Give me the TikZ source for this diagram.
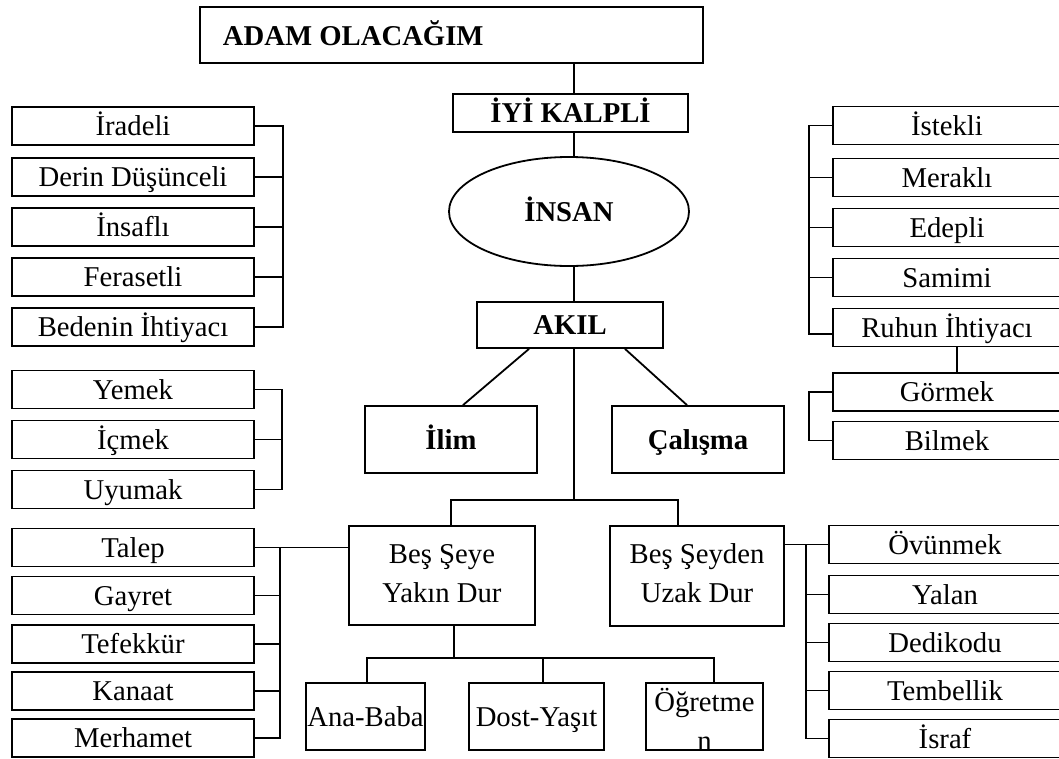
\documentclass[tikz,border=0pt]{standalone}
\usepackage{fontspec}
\setmainfont{Liberation Serif}
\usetikzlibrary{shapes.geometric}
\begin{document}
\begin{tikzpicture}[x=1pt,y=-1pt,line width=1.8pt,
  rmtext/.style={font=\fontsize{28.7pt}{38pt}\selectfont},
  bftext/.style={font=\fontsize{28.7pt}{38pt}\selectfont\bfseries},
  bx/.style={draw, rectangle, inner sep=0pt, text height=25pt, text depth=6pt, rmtext},
  lbox/.style={bx, minimum width=242pt, minimum height=38pt},
  rbox/.style={bx, minimum width=228pt, minimum height=38pt},
  sbox/.style={bx, minimum width=232pt, minimum height=38pt},
  txt/.style={inner sep=0pt, rmtext, anchor=base},
]
\useasboundingbox (0,0) rectangle (1059,758);

% central column
\node[bx, minimum width=503pt, minimum height=56pt] (adam) at (451.5,35) {};
\node[txt, bftext, anchor=base west] (adamt) at (222,45) {ADAM OLACAĞIM};
\node[bx, bftext, minimum width=235pt, minimum height=38pt] (iyi) at (570.5,113) {İYİ KALPLİ};
\node[draw, ellipse, inner sep=0pt, minimum width=240pt, minimum height=109pt,
      text height=25pt, text depth=6pt, bftext] (insan) at (569,211.5) {İNSAN};
\node[bx, bftext, minimum width=186pt, minimum height=46pt] (akil) at (570,325) {AKIL};
\node[bx, bftext, minimum width=172pt, minimum height=67pt] (ilim) at (451,439.5) {İlim};
\node[bx, bftext, minimum width=172pt, minimum height=67pt] (calisma) at (698,439.5) {Çalışma};

\node[bx, minimum width=186pt, minimum height=99pt] (bes1) at (442,575.5) {};
\node[txt] (bes1a) at ([yshift=12.5pt]bes1.center) {Beş Şeye};
\node[txt] (bes1b) at ([yshift=-26.5pt]bes1.center) {Yakın Dur};
\node[bx, minimum width=174pt, minimum height=100pt] (bes2) at (697,576) {};
\node[txt] (bes2a) at ([yshift=13pt]bes2.center) {Beş Şeyden};
\node[txt] (bes2b) at ([yshift=-26pt]bes2.center) {Uzak Dur};

\node[bx, minimum width=119pt, minimum height=67pt] (anababa) at (365.5,716.5) {Ana-Baba};
\node[bx, minimum width=135pt, minimum height=67pt] (dost) at (536.5,716.5) {Dost-Yaşıt};
\node[bx, minimum width=117pt, minimum height=67pt] (ogretmen) at (704.5,716.5) {};
\node[txt] (ogr1) at ([yshift=5.5pt]ogretmen.center) {Öğretme};
\node[txt] (ogr2) at ([yshift=-33.5pt]ogretmen.center) {n};

% left column
\node[lbox] (iradeli) at (133,126) {İradeli};
\node[lbox] (derin) at (133,177) {Derin Düşünceli};
\node[lbox] (insafli) at (133,227) {İnsaflı};
\node[lbox] (feraset) at (133,277) {Ferasetli};
\node[lbox] (beden) at (133,327) {Bedenin İhtiyacı};

\node[lbox] (yemek) at (133,389.5) {Yemek};
\node[lbox] (icmek) at (133,439.5) {İçmek};
\node[lbox] (uyumak) at (133,489.5) {Uyumak};

\node[lbox] (talep) at (133,547.5) {Talep};
\node[lbox] (gayret) at (133,595.5) {Gayret};
\node[lbox] (tefekkur) at (133,644) {Tefekkür};
\node[lbox] (kanaat) at (133,691) {Kanaat};
\node[lbox] (merhamet) at (133,738) {Merhamet};

% right column
\node[rbox] (istekli) at (947,125.5) {İstekli};
\node[rbox] (merakli) at (947,177.5) {Meraklı};
\node[rbox] (edepli) at (947,227.5) {Edepli};
\node[rbox] (samimi) at (947,277.5) {Samimi};
\node[rbox] (ruhun) at (947,327.5) {Ruhun İhtiyacı};
\node[rbox] (gormek) at (947,392) {Görmek};
\node[rbox] (bilmek) at (947,440.5) {Bilmek};

\node[sbox] (ovunmek) at (945,544.5) {Övünmek};
\node[sbox] (yalan) at (945,594.5) {Yalan};
\node[sbox] (dedikodu) at (945,642.5) {Dedikodu};
\node[sbox] (tembellik) at (945,690.5) {Tembellik};
\node[sbox] (israf) at (945,738.5) {İsraf};

% bracket columns
\coordinate (spine) at (574,0);
\coordinate (mid) at (574,500);
\coordinate (lb1) at (283,0);
\coordinate (lb2) at (282,0);
\coordinate (lb3) at (280,0);
\coordinate (rb1) at (809,0);
\coordinate (rb2) at (806,0);
\coordinate (low) at (454,658);

% spine
\draw (adam.south -| spine) -- (iyi.north -| spine);
\draw (iyi.south -| spine) -- (insan.north -| spine);
\draw (insan.south -| spine) -- (akil.north -| spine);
\draw (akil.south -| spine) -- (mid);
\draw ([xshift=-41pt]akil.south) -- ([xshift=12pt]ilim.north);
\draw ([xshift=55pt]akil.south) -- ([xshift=-11pt]calisma.north);
\draw ([xshift=9pt]bes1.north) |- (mid) -| ([xshift=-19pt]bes2.north);

% Beş Şeye children
\draw ([xshift=12pt]bes1.south) -- (low);
\draw ([xshift=1.5pt]anababa.north) |- (low) -| ([xshift=9.5pt]ogretmen.north);
\draw ([xshift=6.5pt]dost.north) -- ([xshift=6.5pt]dost.north |- low);

% left brackets
\draw (iradeli.east) -- (iradeli.east -| lb1) -- (beden.east -| lb1) -- (beden.east);
\foreach \n in {derin,insafli,feraset} \draw (\n.east) -- (\n.east -| lb1);
\draw (yemek.east) -- (yemek.east -| lb2) -- (uyumak.east -| lb2) -- (uyumak.east);
\draw (icmek.east) -- (icmek.east -| lb2);
\draw (talep.east) -- (talep.east -| bes1.west);
\draw (talep.east -| lb3) -- (merhamet.east -| lb3) -- (merhamet.east);
\foreach \n in {gayret,tefekkur,kanaat} \draw (\n.east) -- (\n.east -| lb3);

% right brackets
\draw (istekli.west) -- (istekli.west -| rb1) -- ([yshift=-6.5pt]ruhun.west -| rb1) -- ([yshift=-6.5pt]ruhun.west);
\foreach \n in {merakli,edepli,samimi} \draw (\n.west) -- (\n.west -| rb1);
\draw ([xshift=10pt]ruhun.south) -- ([xshift=10pt]gormek.north);
\draw (gormek.west) -- (gormek.west -| rb1) -- (bilmek.west -| rb1) -- (bilmek.west);
\draw (ovunmek.west -| bes2.east) -- (ovunmek.west);
\draw (ovunmek.west -| rb2) -- (israf.west -| rb2) -- (israf.west);
\foreach \n in {yalan,dedikodu,tembellik} \draw (\n.west) -- (\n.west -| rb2);
\end{tikzpicture}
\end{document}
